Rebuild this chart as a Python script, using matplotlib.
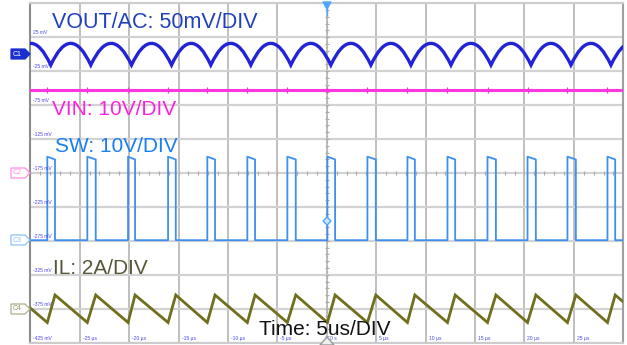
import numpy as np
import matplotlib
matplotlib.use("Agg")
import matplotlib.pyplot as plt
from matplotlib.path import Path
from matplotlib.patches import PathPatch, Polygon

plt.rcParams['font.family'] = ['Liberation Sans', 'DejaVu Sans']

# ---------------- data ----------------
# time axis: 5 us/div, 12 div ; vertical screen scale: 50 mV/div (C1 labels), 10 div
x_tick_us = [-25, -20, -15, -10, -5, 0, 5, 10, 15, 20, 25]
x_tick_labels = ['-25 µs', '-20 µs', '-15 µs', '-10 µs', '-5 µs', '0 s',
                 '5 µs', '10 µs', '15 µs', '20 µs', '25 µs']
y_tick_mV = [25, -25, -75, -125, -175, -225, -275, -325, -375, -425]
y_tick_labels = ['25 mV', '-25 mV', '-75 mV', '-125 mV', '-175 mV',
                 '-225 mV', '-275 mV', '-325 mV', '-375 mV', '-425 mV']

# switching node edges (us)
sw_rise_us = [-28.28, -24.23, -20.11, -16.06, -12.09, -8.04, -3.99, 0.06,
              4.11, 8.16, 12.21, 16.26, 20.31, 24.35, 28.40]
sw_fall_us = [-27.50, -23.38, -19.40, -15.28, -11.31, -7.26, -3.14, 0.84,
              4.96, 8.91, 12.99, 17.11, 21.15, 25.20, 29.18]
sw_low_V = 0.2
sw_high_start_V = 24.8
sw_high_end_V = 24.0

# input voltage (V) and its small switching spikes
vin_V = 24.4
vin_spike_V = 0.9

# output ripple (AC coupled, mV): troughs and peaks of each cycle
vout_trough_us = [-31.98, -27.93, -23.88, -19.76, -15.71, -11.74, -7.69, -3.64,
                  0.41, 4.46, 8.51, 12.56, 16.61, 20.66, 24.70, 28.75, 32.80]
vout_trough_mV = -16.0
vout_peak_mV = 16.0

# inductor current (A, relative to C4 reference): valleys at SW rise, peaks at SW fall
il_peak_us = [-31.55] + sw_fall_us
il_valley_us = sw_rise_us + [32.45]
il_peak_A = 0.81
il_valley_A = -0.81

# channel scales (screen mV per unit) and reference positions (screen mV)
c1_ref, c1_scale = 0.0, 50.0 / 50.0      # 50 mV/div
c2_ref, c2_scale = -175.0, 50.0 / 10.0   # 10 V/div
c3_ref, c3_scale = -275.0, 50.0 / 10.0   # 10 V/div
c4_ref, c4_scale = -375.0, 50.0 / 2.0    # 2 A/div

# ---------------- figure ----------------
W, H = 627, 345
fig = plt.figure(figsize=(W / 100, H / 100), dpi=100)
fig.patch.set_facecolor('white')
L, R, T, B = 30.3, 623.3, 3.3, 342.7
ax = fig.add_axes([L / W, 1 - B / H, (R - L) / W, (B - T) / H])
ax.set_xlim(-30, 30)
ax.set_ylim(-425, 75)
ax.set_facecolor('white')

ax.set_xticks(np.arange(-30, 31, 5))
ax.set_yticks(np.arange(-425, 76, 50))
ax.tick_params(length=0, labelbottom=False, labelleft=False)
ax.xaxis.grid(True, color='#b4b4b4', linewidth=1.2)
ax.yaxis.grid(True, color='#d2d2d2', linewidth=1.6)
ax.set_axisbelow(True)
ax.spines['left'].set_color('#8c8c8c'); ax.spines['left'].set_linewidth(1.5)
ax.spines['right'].set_color('#a0a0a0'); ax.spines['right'].set_linewidth(1.5)
for s in ['top', 'bottom']:
    ax.spines[s].set_color('#cccccc'); ax.spines[s].set_linewidth(1.5)

# center cross with minor ticks
ax.axvline(0, color='#b0b0b0', linewidth=0.9, linestyle=(0, (2, 2)), zorder=1)
minor_x = np.arange(-30, 30.01, 1.0)
ax.plot(minor_x, np.full_like(minor_x, -175.0), linestyle='none', marker='|',
        markersize=3.5, color='#aaaaaa', markeredgewidth=0.8, zorder=1)
minor_y = np.arange(-425, 75.01, 10.0)
ax.plot(np.zeros_like(minor_y), minor_y, linestyle='none', marker='_',
        markersize=3.5, color='#aaaaaa', markeredgewidth=0.8, zorder=1)

# ---- C4: inductor current ----
il_t, il_v = [], []
for tp, tv in zip(il_peak_us, il_valley_us):
    il_t += [tp, tv]
    il_v += [il_peak_A, il_valley_A]
ax.plot(il_t, c4_ref + np.array(il_v) * c4_scale, color='#6f6f1e', linewidth=2.0,
        solid_joinstyle='miter', zorder=3)

# ---- C3: switching node ----
sw_t, sw_v = [-30.0], [sw_low_V]
for tr, tf in zip(sw_rise_us, sw_fall_us):
    sw_t += [tr, tr, tf, tf]
    sw_v += [sw_low_V, sw_high_start_V, sw_high_end_V, sw_low_V]
sw_t.append(30.0); sw_v.append(sw_low_V)
ax.plot(sw_t, c3_ref + np.array(sw_v) * c3_scale, color='#3d8ff0', linewidth=1.3,
        zorder=3)

# ---- C2: input voltage ----
ax.axhline(c2_ref + vin_V * c2_scale, color='#ff35dd', linewidth=2.2, zorder=3)
ax.vlines(sw_rise_us, c2_ref + (vin_V - vin_spike_V) * c2_scale,
          c2_ref + (vin_V + vin_spike_V) * c2_scale, color='#ff35dd',
          linewidth=0.9, zorder=3)

# ---- C1: output ripple (parabolic arcs between troughs) ----
verts, codes = [], []
tro = c1_ref + vout_trough_mV * c1_scale
pk = c1_ref + vout_peak_mV * c1_scale
for i, (t0, t1) in enumerate(zip(vout_trough_us[:-1], vout_trough_us[1:])):
    if i == 0:
        verts.append((t0, tro)); codes.append(Path.MOVETO)
    verts += [((t0 + t1) / 2, 2 * pk - tro), (t1, tro)]
    codes += [Path.CURVE3, Path.CURVE3]
ax.add_patch(PathPatch(Path(verts, codes), fill=False, edgecolor='#2222d6',
                       linewidth=2.4, zorder=4))

# ---- small scale labels ----
for v, lab in zip(y_tick_mV, y_tick_labels):
    ax.annotate(lab, xy=(-30, v), xytext=(3, 2), textcoords='offset pixels',
                fontsize=3.6, color='#4a4af0', ha='left', va='bottom', zorder=5)
for v, lab in zip(x_tick_us, x_tick_labels):
    ax.annotate(lab, xy=(v, -425), xytext=(3, 2), textcoords='offset pixels',
                fontsize=3.6, color='#4a4af0', ha='left', va='bottom', zorder=5)

# ---- big annotations ----
def ftext(x, y, s, **kw):
    fig.text(x / W, 1 - y / H, s, va='baseline', ha='left', **kw)

ftext(52, 28, 'VOUT/AC: 50mV/DIV', fontsize=15.5, color='#2040c0', zorder=10,
      family=['Liberation Sans Narrow', 'Liberation Sans', 'DejaVu Sans'])
ftext(52, 115, 'VIN: 10V/DIV', fontsize=15, color='#ff22dd', zorder=10)
ftext(55, 151.5, 'SW: 10V/DIV', fontsize=15, color='#1a7ff0', zorder=10)
ftext(52.5, 274, 'IL: 2A/DIV', fontsize=15, color='#57573a', zorder=10)
ftext(259, 335, 'Time: 5us/DIV', fontsize=15, color='#111111', zorder=10)

# ---- channel tags on the left ----
def tag(yc, label, edge, face, txt):
    pts = [(11, yc - 5), (25, yc - 5), (30, yc), (25, yc + 5), (11, yc + 5)]
    pts = [(x / W, 1 - y / H) for x, y in pts]
    fig.patches.append(Polygon(pts, closed=True, transform=fig.transFigure,
                               facecolor=face, edgecolor=edge, linewidth=0.9))
    fig.text(17.5 / W, 1 - yc / H, label, fontsize=5, color=txt,
             ha='center', va='center')

tag(54, 'C1', '#1a2fd0', '#1a2fd0', 'white')
tag(173, 'C2', '#ff8ce8', 'white', '#ff8ce8')
tag(240, 'C3', '#8cc0f5', 'white', '#8cc0f5')
tag(309, 'C4', '#b0b08c', 'white', '#9a9a70')

# trigger markers
tri = [(323, 2), (331, 2), (327, 9)]
fig.patches.append(Polygon([(x / W, 1 - y / H) for x, y in tri], closed=True,
                           transform=fig.transFigure, facecolor='#4da6ff',
                           edgecolor='#4da6ff'))
fig.lines.append(plt.Line2D([327 / W, 327 / W], [1 - 8 / H, 1 - 15 / H],
                            transform=fig.transFigure, color='#4da6ff', linewidth=1))
dia = [(327, 217), (331, 221), (327, 225), (323, 221)]
fig.patches.append(Polygon([(x / W, 1 - y / H) for x, y in dia], closed=True,
                           transform=fig.transFigure, facecolor='#cfe6ff',
                           edgecolor='#4da6ff', linewidth=1, zorder=6))
btri = [(320, 345), (334, 345), (327, 337)]
fig.patches.append(Polygon([(x / W, 1 - y / H) for x, y in btri], closed=True,
                           transform=fig.transFigure, facecolor='#f0f0f0',
                           edgecolor='#999999', linewidth=1, zorder=6))

fig.savefig('out.png', dpi=100)
